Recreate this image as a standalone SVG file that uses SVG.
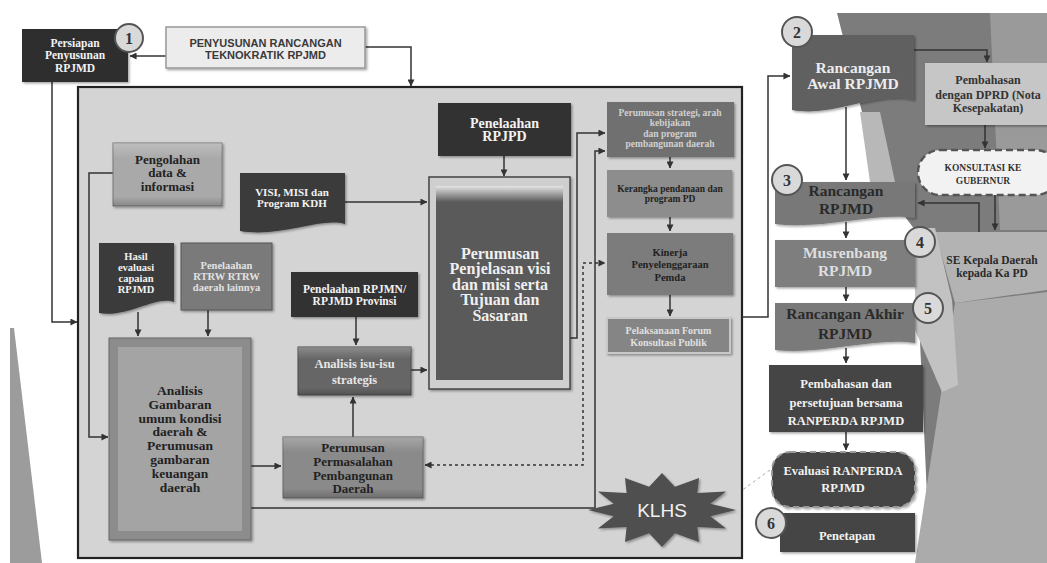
<svg xmlns="http://www.w3.org/2000/svg" width="1047" height="563" viewBox="0 0 1047 563">
  <defs>
    <marker id="arr" viewBox="0 0 8 8" refX="7.5" refY="4" markerWidth="7" markerHeight="7" markerUnits="userSpaceOnUse" orient="auto-start-reverse">
      <path d="M0,0 L8,4 L0,8 Z" fill="#333"/>
    </marker>
    <filter id="sh" x="-10%" y="-10%" width="125%" height="130%">
      <feDropShadow dx="1.5" dy="1.5" stdDeviation="1" flood-color="#000" flood-opacity="0.35"/>
    </filter>
    <linearGradient id="bevel" x1="0" y1="0" x2="0" y2="1">
      <stop offset="0" stop-color="#fff" stop-opacity="0.25"/>
      <stop offset="0.25" stop-color="#fff" stop-opacity="0"/>
      <stop offset="0.85" stop-color="#000" stop-opacity="0"/>
      <stop offset="1" stop-color="#000" stop-opacity="0.2"/>
    </linearGradient>
    <linearGradient id="gloss" x1="0" y1="0" x2="0" y2="1">
      <stop offset="0" stop-color="#f4f4f4" stop-opacity="0.9"/>
      <stop offset="1" stop-color="#f4f4f4" stop-opacity="0"/>
    </linearGradient>
    <style>
      .t { font-family: "Liberation Serif", "DejaVu Serif", serif; font-weight: bold; text-anchor: middle; }
      .s { font-family: "Liberation Sans", "DejaVu Sans", sans-serif; text-anchor: middle; }
      .w { fill: #f2f2f2; }
      .k { fill: #222; }
      .box { filter: url(#sh); }
      .edge { fill: none; stroke: #333; stroke-width: 1.5; marker-end: url(#arr); }
      .dash { fill: none; stroke: #333; stroke-width: 1.5; stroke-dasharray: 3 3; marker-start: url(#arr); marker-end: url(#arr); }
      .num circle { fill: #d9d9d9; stroke: #555; stroke-width: 2; }
      .num text { font-family: "Liberation Serif", serif; font-weight: bold; font-size: 16px; fill: #333; text-anchor: middle; }
    </style>
  </defs>

  <!-- backdrop facets -->
  <g id="backdrop">
    <rect width="1047" height="563" fill="#fff"/>
    <polygon points="10,328 14,328 42,563 10,563" fill="#9c9c9c"/>
    <polygon points="837,13 1047,13 1047,563 930,563 915,230 885,190 862,112" fill="#7c7c7c"/>
    <polygon points="990,13 1047,13 1047,230 1000,230" fill="#9a9a9a"/>
    <polygon points="860,112 880,112 895,182 870,182" fill="#b8b8b8"/>
    <polygon points="935,232 1047,232 1047,290 955,303" fill="#b3b3b3"/>
    <polygon points="955,303 1047,292 1047,563 915,563" fill="#ababab"/>
    <polygon points="915,228 935,228 952,300 958,385 942,392 915,330" fill="#c2c2c2"/>
    <line x1="770" y1="470" x2="712" y2="512" stroke="#aaa" stroke-width="1" stroke-dasharray="3 3"/>
  </g>

  <!-- main technocratic frame -->
  <g id="frame">
    <rect x="78" y="87" width="664" height="471" fill="#d4d4d4" stroke="#222" stroke-width="2.2"/>
  </g>

  <g id="connectors">
    <path class="edge" d="M166,56 H130"/>
    <path class="edge" d="M365,47 H411 V86"/>
    <path class="edge" d="M52,82 V322 H77"/>
    <path class="edge" d="M113,173 H89 V437 H108"/>
    <path class="edge" d="M138,312 V336"/>
    <path class="edge" d="M208,310 V336"/>
    <path class="edge" d="M345,202 H427"/>
    <path class="edge" d="M356,317 V345"/>
    <path class="edge" d="M411,370 H427"/>
    <path class="edge" d="M353,437 V397"/>
    <path class="edge" d="M251,466 H281"/>
    <path class="edge" d="M504,156 V176"/>
    <path class="edge" d="M570,338 H577 V133 H605"/>
    <path class="edge" d="M251,508 H595 V151 H605"/>
    <path class="dash" d="M425,465 H583 V263 H605"/>
    <path class="edge" d="M670,157 V168"/>
    <path class="edge" d="M670,217 V231"/>
    <path class="edge" d="M670,295 V316"/>
    <path class="edge" d="M742,317 H768 V76 H790"/>
    <path class="edge" d="M914,50 H987 V62"/>
    <path class="edge" d="M985,125 V148"/>
    <path class="edge" d="M846,107 V180"/>
    <path class="edge" d="M995,195 V230"/>
    <path class="edge" d="M979,232 V203 H918"/>
    <path class="edge" d="M846,222 V238"/>
    <path class="edge" d="M846,287 V301"/>
    <path class="edge" d="M846,348 V363"/>
    <path class="edge" d="M846,432 V450"/>
  </g>

  <g id="persiapan">
    <rect class="box" x="22" y="29" width="106" height="53" fill="#2f2f2f"/>
    <text class="t w" font-size="11.5"><tspan x="75" y="47">Persiapan</tspan><tspan x="75" y="59">Penyusunan</tspan><tspan x="75" y="72">RPJMD</tspan></text>
  </g>
  <g id="teknokratik">
    <rect class="box" x="166" y="27" width="199" height="41" fill="#ececec" stroke="#999" stroke-width="1.5"/>
    <text class="s" font-size="11" font-weight="bold" fill="#3a3a3a"><tspan x="265.5" y="47">PENYUSUNAN RANCANGAN</tspan><tspan x="265.5" y="59">TEKNOKRATIK RPJMD</tspan></text>
  </g>

  <g id="pengolahan">
    <rect class="box" x="113" y="143" width="109" height="63" fill="#a9a9a9" stroke="#777"/>
    <rect x="113" y="143" width="109" height="63" fill="url(#bevel)"/>
    <text class="t k" font-size="13"><tspan x="167.5" y="164">Pengolahan</tspan><tspan x="167.5" y="177">data &amp;</tspan><tspan x="167.5" y="191">informasi</tspan></text>
  </g>
  <g id="visi-misi">
    <path class="box" d="M240,173 H345 V224 C319,217 282,238 240,231 Z" fill="#3a3a3a"/>
    <text class="t w" font-size="11"><tspan x="292" y="196">VISI, MISI dan</tspan><tspan x="292" y="207">Program KDH</tspan></text>
  </g>
  <g id="hasil-evaluasi">
    <path class="box" d="M99,243 H174 V302 C156,295 128,318 99,313 Z" fill="#3a3a3a"/>
    <text class="t w" font-size="10.5"><tspan x="136" y="259.5">Hasil</tspan><tspan x="136" y="270.5">evaluasi</tspan><tspan x="136" y="281.5">capaian</tspan><tspan x="136" y="292.5">RPJMD</tspan></text>
  </g>
  <g id="rtrw">
    <rect class="box" x="181" y="243" width="91" height="67" fill="#7a7a7a" stroke="#555"/>
    <text class="t" font-size="10.5" font-weight="normal" fill="#e2e2e2"><tspan x="226.5" y="268.5">Penelaahan</tspan><tspan x="226.5" y="279.5">RTRW RTRW</tspan><tspan x="226.5" y="290.5">daerah lainnya</tspan></text>
  </g>
  <g id="rpjmn">
    <rect class="box" x="291" y="272" width="127" height="45" fill="#333"/>
    <text class="t w" font-size="11.5"><tspan x="354.5" y="293">Penelaahan RPJMN/</tspan><tspan x="354.5" y="305">RPJMD Provinsi</tspan></text>
  </g>
  <g id="analisis-gambaran">
    <rect class="box" x="109" y="338" width="142" height="202" fill="#8c8c8c" stroke="#666"/>
    <rect x="118" y="347" width="124" height="184" fill="#a4a4a4"/>
    <text class="t k" font-size="13.5"><tspan x="180" y="395">Analisis</tspan><tspan x="180" y="408.8">Gambaran</tspan><tspan x="180" y="422.6">umum kondisi</tspan><tspan x="180" y="436.4">daerah &amp;</tspan><tspan x="180" y="450.2">Perumusan</tspan><tspan x="180" y="464">gambaran</tspan><tspan x="180" y="477.8">keuangan</tspan><tspan x="180" y="491.6">daerah</tspan></text>
  </g>
  <g id="isu-strategis">
    <rect class="box" x="298" y="347" width="113" height="48" fill="#666" stroke="#4a4a4a"/>
    <rect x="298" y="347" width="113" height="48" fill="url(#bevel)"/>
    <text class="t" font-size="12.5" fill="#e6e6e6"><tspan x="354.5" y="368">Analisis isu-isu</tspan><tspan x="354.5" y="384">strategis</tspan></text>
  </g>
  <g id="permasalahan">
    <rect class="box" x="283" y="437" width="140" height="61" fill="#8a8a8a" stroke="#666"/>
    <rect x="283" y="437" width="140" height="61" fill="url(#bevel)"/>
    <text class="t k" font-size="13"><tspan x="353" y="451.5">Perumusan</tspan><tspan x="353" y="465.5">Permasalahan</tspan><tspan x="353" y="479.5">Pembangunan</tspan><tspan x="353" y="492.5">Daerah</tspan></text>
  </g>
  <g id="rpjpd">
    <rect class="box" x="438" y="103" width="133" height="53" fill="#333"/>
    <text class="t w" font-size="14"><tspan x="504.5" y="128">Penelaahan</tspan><tspan x="504.5" y="141">RPJPD</tspan></text>
  </g>
  <g id="perumusan-visi">
    <rect class="box" x="429" y="177" width="141" height="212" fill="#cfcfcf" stroke="#444" stroke-width="1.5"/>
    <rect x="436" y="186" width="127" height="194" fill="#5a5a5a"/>
    <rect x="436" y="186" width="127" height="16" fill="url(#gloss)"/>
    <text class="t" font-size="16" fill="#efefef"><tspan x="500" y="258.5">Perumusan</tspan><tspan x="500" y="274">Penjelasan visi</tspan><tspan x="500" y="289.5">dan misi serta</tspan><tspan x="500" y="305">Tujuan dan</tspan><tspan x="500" y="320.5">Sasaran</tspan></text>
  </g>
  <g id="strategi">
    <rect class="box" x="607" y="102" width="127" height="55" fill="#707070"/>
    <text class="t" font-size="9.5" font-weight="normal" fill="#d0d0d0"><tspan x="670" y="115.5">Perumusan strategi, arah</tspan><tspan x="670" y="126">kebijakan</tspan><tspan x="670" y="136.5">dan program</tspan><tspan x="670" y="147">pembangunan daerah</tspan></text>
  </g>
  <g id="kerangka">
    <rect class="box" x="607" y="170" width="125" height="47" fill="#8d8d8d"/>
    <text class="t k" font-size="9.5" font-weight="normal"><tspan x="670" y="191.5">Kerangka pendanaan dan</tspan><tspan x="670" y="201.5">program PD</tspan></text>
  </g>
  <g id="kinerja">
    <rect class="box" x="607" y="233" width="126" height="62" fill="#7b7b7b"/>
    <text class="t k" font-size="10.5"><tspan x="670" y="255.5">Kinerja</tspan><tspan x="670" y="267.5">Penyelenggaraan</tspan><tspan x="670" y="280.5">Pemda</tspan></text>
  </g>
  <g id="forum">
    <rect class="box" x="607" y="318" width="123" height="35" fill="#858585" stroke="#c8c8c8" stroke-width="2"/>
    <text class="t" font-size="10" font-weight="normal" fill="#e0e0e0"><tspan x="668.5" y="333.5">Pelaksanaan Forum</tspan><tspan x="668.5" y="345.5">Konsultasi Publik</tspan></text>
  </g>
  <g id="klhs">
    <polygon class="box" points="736,510 710.3,516.2 726.1,528.5 697.4,527 699,542 674.9,533.2 662,547 649.1,533.2 625,542 626.6,527 597.9,528.5 613.7,516.2 588,510 613.7,503.8 597.9,491.5 626.6,493 625,478 649.1,486.8 662,473 674.9,486.8 699,478 697.4,493 726.1,491.5 710.3,503.8" fill="#505050"/>
    <text class="s" x="662" y="517" font-size="19" fill="#f2f2f2">KLHS</text>
  </g>

  <g id="rancangan-awal">
    <path class="box" d="M792,35 H914 V100 C877,90 835,118 792,110 Z" fill="#606060"/>
    <text class="t" font-size="15.5" fill="#ececec"><tspan x="853" y="72.5">Rancangan</tspan><tspan x="853" y="88.5">Awal RPJMD</tspan></text>
  </g>
  <g id="pembahasan-dprd">
    <rect class="box" x="925" y="63" width="130" height="62" fill="#c6c6c6"/>
    <text class="t" font-size="12" fill="#333"><tspan x="988" y="84">Pembahasan</tspan><tspan x="988" y="99">dengan DPRD (Nota</tspan><tspan x="988" y="112">Kesepakatan)</tspan></text>
  </g>
  <g id="konsultasi">
    <rect x="918" y="150" width="140" height="45" rx="22" fill="#f2f2f2" stroke="#555" stroke-width="2.5" stroke-dasharray="7 4"/>
    <text class="t" font-size="9.5" fill="#333"><tspan x="983" y="170.5">KONSULTASI KE</tspan><tspan x="983" y="183.5">GUBERNUR</tspan></text>
  </g>
  <g id="rancangan">
    <path class="box" d="M775,182 H915 V218 C873,212 824,230 775,224 Z" fill="#787878"/>
    <text class="t" font-size="15.5" fill="#2a2a2a"><tspan x="846" y="195.5">Rancangan</tspan><tspan x="846" y="213.5">RPJMD</tspan></text>
  </g>
  <g id="se-kepala-daerah">
    <text class="t" font-size="11.5" fill="#2a2a2a"><tspan x="992" y="264">SE Kepala Daerah</tspan><tspan x="992" y="277">kepada Ka PD</tspan></text>
  </g>
  <g id="musrenbang">
    <rect class="box" x="775" y="240" width="140" height="47" fill="#7e7e7e"/>
    <text class="t" font-size="15.5" fill="#dedede"><tspan x="845" y="257.5">Musrenbang</tspan><tspan x="845" y="275.5">RPJMD</tspan></text>
  </g>
  <g id="rancangan-akhir">
    <path class="box" d="M775,303 H915 V343 C873,337 824,355 775,350 Z" fill="#7a7a7a"/>
    <text class="t" font-size="15.5" fill="#2a2a2a"><tspan x="845" y="318.5">Rancangan Akhir</tspan><tspan x="845" y="338.5">RPJMD</tspan></text>
  </g>
  <g id="ranperda">
    <rect class="box" x="769" y="365" width="154" height="67" fill="#444"/>
    <text class="t w" font-size="12.5"><tspan x="846" y="387.5">Pembahasan dan</tspan><tspan x="846" y="406.5">persetujuan  bersama</tspan><tspan x="846" y="424.5">RANPERDA RPJMD</tspan></text>
  </g>
  <g id="evaluasi">
    <rect class="box" x="772" y="452" width="143" height="55" rx="18" fill="#454545" stroke="#9a9a9a" stroke-width="2" stroke-dasharray="6 4"/>
    <text class="t w" font-size="12.5"><tspan x="843" y="474.5">Evaluasi RANPERDA</tspan><tspan x="843" y="491.5">RPJMD</tspan></text>
  </g>
  <g id="penetapan">
    <rect class="box" x="780" y="513" width="135" height="39" fill="#444"/>
    <text class="t w" x="847" y="540" font-size="12.5">Penetapan</text>
  </g>

  <g id="steps">
    <g class="num"><circle cx="129" cy="38" r="14"/><text x="129" y="44">1</text></g>
    <g class="num"><circle cx="797" cy="32" r="15"/><text x="797" y="38">2</text></g>
    <g class="num"><circle cx="787" cy="180" r="15"/><text x="787" y="186">3</text></g>
    <g class="num"><circle cx="920" cy="242" r="15"/><text x="920" y="248">4</text></g>
    <g class="num"><circle cx="928" cy="308" r="15"/><text x="928" y="314">5</text></g>
    <g class="num"><circle cx="771" cy="523" r="15"/><text x="771" y="529">6</text></g>
  </g>
</svg>
